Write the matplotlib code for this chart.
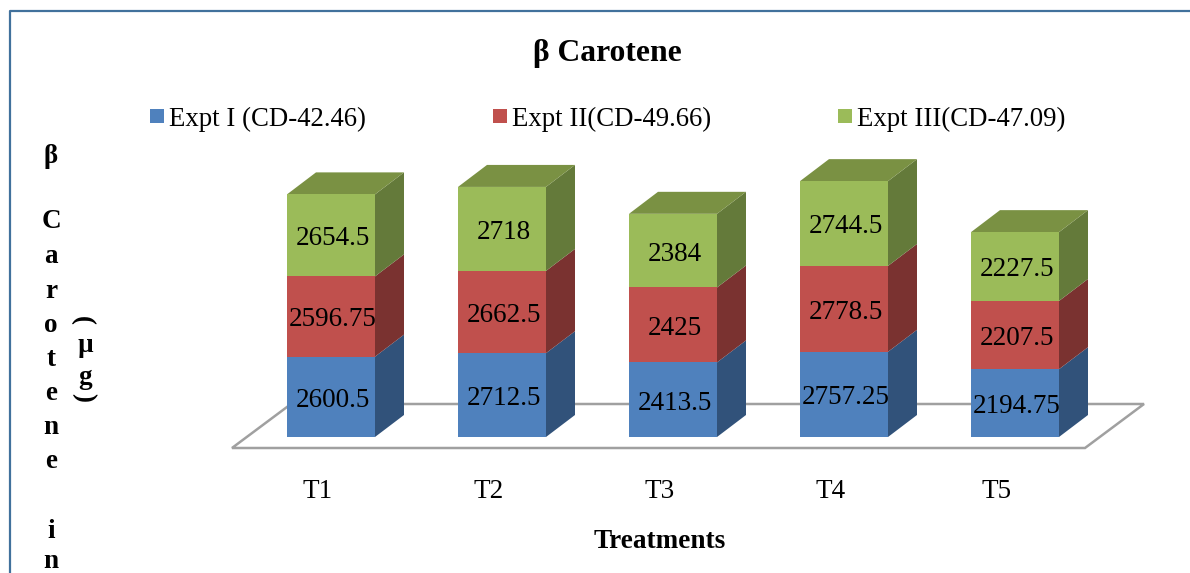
# plot.py - beta carotene stacked 3d-look bars

import matplotlib
matplotlib.use('Agg')
import matplotlib.pyplot as plt
from matplotlib.patches import Polygon, Rectangle

W, H = 1190, 573

treatments = ['T1', 'T2', 'T3', 'T4', 'T5']
series_names = ['Expt I (CD-42.46)', 'Expt II(CD-49.66)', 'Expt III(CD-47.09)']
expt1 = [2600.5, 2712.5, 2413.5, 2757.25, 2194.75]
expt2 = [2596.75, 2662.5, 2425, 2778.5, 2207.5]
expt3 = [2654.5, 2718, 2384, 2744.5, 2227.5]

front_cols = ['#4f81bd', '#c0504d', '#9bbb59']
side_cols = ['#31527a', '#7a3230', '#647a3a']
top_cols = ['#3d6596', '#984040', '#7a9143']

ylabel_chars = ['β', 'C', 'a', 'r', 'o', 't', 'e', 'n', 'e', 'i', 'n']
ylabel_ys = [156, 221, 257, 291, 326, 359, 393, 428, 462, 531, 561]
unit_chars = [')', 'µ', 'g', '(']
unit_ys = [319, 345, 378, 396]
unit_rot = [90, 0, 0, 90]
tick_nudge = [0, 0, 0, 0, -5]

plt.rcParams['font.family'] = ['Liberation Serif', 'DejaVu Serif']

fig = plt.figure(figsize=(W / 100, H / 100), dpi=100)

# the axes fills the figure, scales set so bars land where they should
px_x = 171.0
px_y = 0.0309
ax = fig.add_axes([0, 0, 1, 1])
ax.set_xlim(-331 / px_x, (W - 331) / px_x)
ax.set_ylim((437 - H) / px_y, 437 / px_y)
ax.axis('off')

bar_w = 88 / px_x
dx = 29 / px_x
dy = 22 / px_y
grey = '#a0a0a0'

# floor
fl_y = -11 / px_y
fl_x0, fl_x1 = -99 / px_x, 754 / px_x
fl_dx, fl_dy = 59 / px_x, 44 / px_y
ax.add_patch(Polygon([(fl_x0, fl_y), (fl_x0 + fl_dx, fl_y + fl_dy),
                      (fl_x1 + fl_dx, fl_y + fl_dy), (fl_x1, fl_y)],
                     closed=True, fc='white', ec=grey, lw=1.8, zorder=1))

all_vals = [expt1, expt2, expt3]
for i in range(len(treatments)):
    left = i - bar_w / 2
    right = i + bar_w / 2
    bottom = 0
    for k, vals in enumerate(all_vals):
        v = vals[i]
        ax.bar(i, v, bar_w, bottom=bottom, color=front_cols[k], zorder=4)
        ax.add_patch(Polygon([(right, bottom), (right + dx, bottom + dy),
                              (right + dx, bottom + v + dy), (right, bottom + v)],
                             closed=True, fc=side_cols[k], ec='none', zorder=3))
        ax.text(i + 0.01, bottom + v / 2 - 110, str(v), ha='center', va='center',
                fontsize=19.5, color='black', zorder=6)
        bottom += v
    ax.add_patch(Polygon([(left, bottom), (left + dx, bottom + dy),
                          (right + dx, bottom + dy), (right, bottom)],
                         closed=True, fc=top_cols[2], ec='none', zorder=3))
    ax.text(i - 0.078 + tick_nudge[i] / px_x, -1775, treatments[i], ha='center', va='center',
            fontsize=19.5, color='black')


def px_text(x, y, s, **kw):
    fig.text(x / W, 1 - y / H, s, color='black', **kw)


# frame, only left and top are in the crop
fig.add_artist(plt.Line2D([10 / W, 10 / W, 1], [0, 1 - 11 / H, 1 - 11 / H],
                          color='#41719c', lw=1.6))

px_text(607, 54, 'β Carotene', fontsize=22.8, fontweight='bold', ha='center', va='center')
px_text(660, 542, 'Treatments', fontsize=19.6, fontweight='bold', ha='center', va='center')

# legend
sw_x = [150, 493, 838]
for k, name in enumerate(series_names):
    fig.add_artist(Rectangle((sw_x[k] / W, 1 - 123 / H), 14 / W, 14 / H,
                             transform=fig.transFigure, fc=front_cols[k], ec='none'))
    px_text(sw_x[k] + 19, 119, name, fontsize=19.3, ha='left', va='center')

# y label, written one letter per line in the original
for c, y in zip(ylabel_chars, ylabel_ys):
    px_text(51, y, c, fontsize=19.5, fontweight='bold', ha='center', va='center')
for c, y, r in zip(unit_chars, unit_ys, unit_rot):
    px_text(85, y, c, fontsize=19.5, fontweight='bold', ha='center', va='center', rotation=r)

plt.savefig('out.png', dpi=100)
